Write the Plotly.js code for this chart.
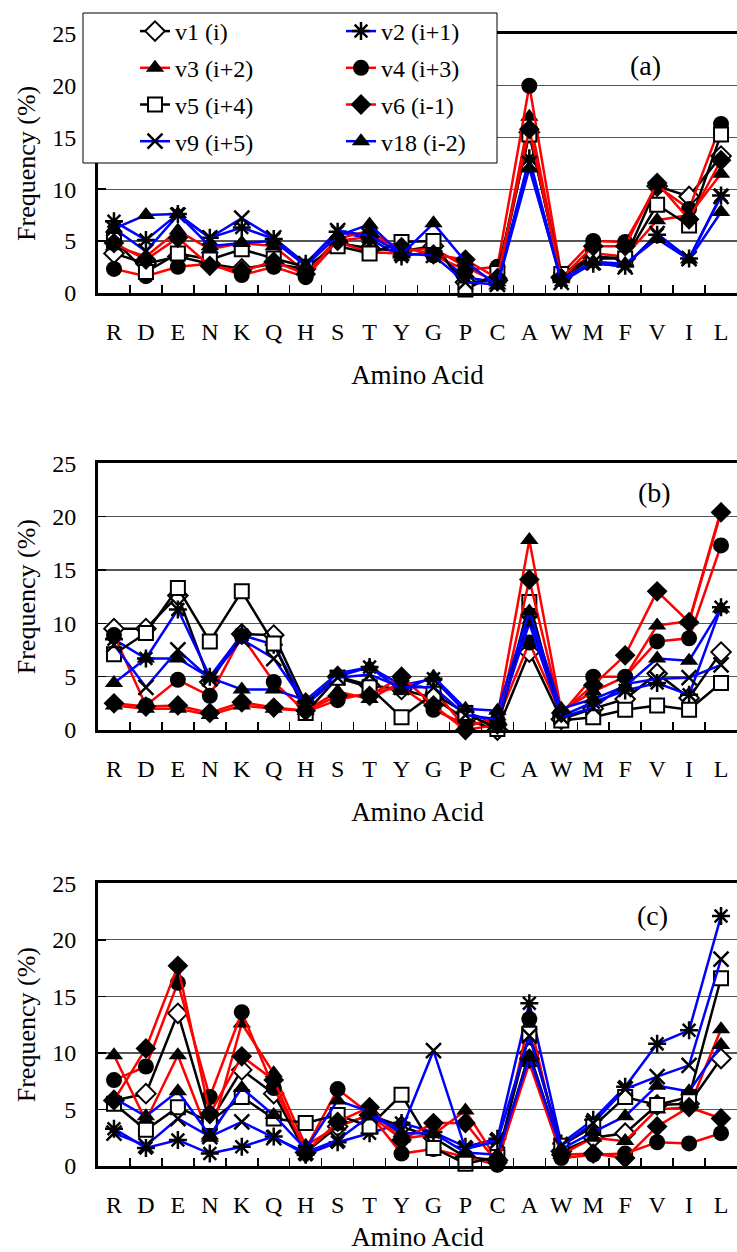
<!DOCTYPE html>
<html><head><meta charset="utf-8">
<script src="https://cdn.plot.ly/plotly-3.0.1.min.js"></script>
<style>body{margin:0;background:#fff}</style>
</head><body><div id="chart" style="width:737px;height:1252px"></div>
<script>
const categories = ['R','D','E','N','K','Q','H','S','T','Y','G','P','C','A','W','M','F','V','I','L'];
const seriesNames = ['v1 (i)','v2 (i+1)','v3 (i+2)','v4 (i+3)','v5 (i+4)','v6 (i-1)','v9 (i+5)','v18 (i-2)'];
const panelLabels = ['(a)','(b)','(c)'];
const yTicks = [0,5,10,15,20,25];

// Panel (a)
const a_v1  = [3.8, 2.8, 3.5, 2.8, 2.3, 2.8, 2.3, 4.8, 4.3, 4.0, 4.5, 1.0, 1.2, 15.5, 1.5, 3.3, 3.3, 10.3, 9.3, 13.2];
const a_v2  = [6.9, 5.1, 7.6, 5.3, 6.3, 5.2, 2.8, 5.9, 5.2, 3.5, 4.0, 1.5, 1.0, 13.0, 1.2, 2.8, 2.6, 5.6, 3.3, 9.4];
const a_v3  = [4.5, 3.5, 6.0, 4.2, 4.8, 4.5, 2.0, 5.2, 6.0, 4.0, 4.3, 2.5, 1.0, 17.0, 1.5, 3.8, 3.5, 7.0, 7.5, 11.5];
const a_v4  = [2.3, 1.6, 2.5, 2.8, 1.7, 2.5, 1.5, 4.9, 3.9, 3.8, 3.6, 2.2, 2.5, 20.0, 1.8, 5.0, 4.9, 10.3, 8.1, 16.3];
const a_v5  = [5.1, 2.0, 3.8, 3.2, 4.2, 3.3, 2.5, 4.5, 3.8, 4.9, 5.0, 0.3, 1.9, 15.3, 1.8, 3.5, 3.3, 8.5, 6.5, 15.3];
const a_v6  = [4.8, 3.2, 5.3, 2.6, 2.1, 3.0, 1.8, 5.0, 5.4, 4.4, 3.7, 3.2, 1.4, 15.8, 1.4, 4.5, 4.5, 10.6, 7.1, 12.8];
const a_v9  = [6.2, 4.0, 7.5, 5.3, 7.2, 5.3, 2.8, 6.0, 5.5, 3.8, 3.6, 1.0, 0.8, 12.5, 1.0, 2.9, 2.5, 5.7, 3.3, 9.3];
const a_v18 = [6.2, 7.5, 7.6, 4.5, 4.8, 5.0, 2.6, 5.5, 6.6, 3.7, 6.7, 3.0, 0.7, 12.0, 1.3, 3.0, 2.8, 5.2, 3.2, 7.8];

// Panel (b)
const b_v1  = [9.5, 9.5, 12.6, 4.5, 9.0, 8.9, 2.5, 5.0, 4.2, 3.8, 3.0, 1.0, 0.0, 7.3, 1.0, 2.0, 2.9, 5.3, 3.0, 7.3];
const b_v2  = [8.5, 6.7, 11.3, 5.0, 8.9, 8.0, 2.3, 5.0, 5.9, 4.2, 4.8, 1.7, 0.6, 10.6, 1.3, 2.6, 3.7, 4.4, 3.3, 11.5];
const b_v3  = [2.3, 2.0, 2.0, 1.4, 2.3, 2.0, 1.8, 3.6, 2.9, 4.5, 3.8, 0.2, 1.3, 17.8, 1.8, 3.6, 5.0, 9.8, 10.2, 20.6];
const b_v4  = [8.9, 2.3, 4.7, 3.2, 8.8, 4.5, 1.7, 2.8, 3.5, 4.0, 1.9, 0.5, 0.9, 8.2, 1.5, 5.0, 5.0, 8.3, 8.6, 17.3];
const b_v5  = [7.1, 9.1, 13.3, 8.3, 13.0, 8.1, 1.6, 4.9, 4.0, 1.2, 3.4, 1.6, 0.1, 12.0, 0.9, 1.2, 1.9, 2.3, 1.9, 4.4];
const b_v6  = [2.5, 2.2, 2.3, 1.6, 2.6, 2.1, 1.8, 3.2, 3.2, 5.0, 2.3, 0.0, 0.5, 14.1, 1.6, 4.2, 7.0, 13.0, 10.1, 20.4];
const b_v9  = [8.0, 4.0, 7.5, 4.8, 8.5, 6.7, 2.4, 4.9, 5.2, 4.0, 4.0, 1.4, 1.0, 10.0, 1.2, 2.1, 4.3, 4.8, 4.9, 6.1];
const b_v18 = [4.4, 6.7, 6.7, 4.9, 3.8, 3.8, 2.8, 5.3, 5.9, 3.7, 5.0, 2.0, 1.8, 11.1, 2.0, 2.9, 4.1, 6.7, 6.5, 11.4];

// Panel (c)
const c_v1  = [5.8, 6.4, 13.5, 3.9, 8.5, 6.4, 1.2, 3.5, 4.5, 3.5, 2.5, 0.8, 0.5, 10.0, 1.3, 2.5, 2.9, 5.4, 5.5, 9.5];
const c_v2  = [3.3, 1.6, 2.3, 1.1, 1.7, 2.6, 1.0, 2.1, 2.9, 3.8, 3.0, 1.7, 2.4, 14.4, 2.0, 4.1, 7.0, 10.8, 12.0, 22.1];
const c_v3  = [9.8, 4.0, 9.8, 2.5, 12.6, 8.2, 1.8, 3.5, 4.5, 2.4, 2.8, 4.9, 0.5, 9.1, 1.0, 2.5, 2.2, 5.0, 5.2, 12.1];
const c_v4  = [7.6, 8.8, 16.2, 6.1, 13.6, 6.9, 1.5, 6.8, 4.6, 1.1, 1.5, 0.8, 0.1, 13.0, 0.7, 1.0, 1.1, 2.1, 2.0, 2.9];
const c_v5  = [5.5, 3.2, 5.2, 3.9, 6.1, 4.2, 3.8, 4.5, 3.5, 6.3, 1.6, 0.2, 0.8, 11.7, 1.8, 3.5, 6.1, 5.4, 6.1, 16.6];
const c_v6  = [5.8, 10.4, 17.7, 4.6, 9.7, 7.6, 1.2, 3.9, 5.2, 2.3, 3.8, 3.8, 0.3, 9.5, 1.0, 1.1, 0.7, 3.5, 5.2, 4.2];
const c_v9  = [2.9, 1.8, 4.2, 2.6, 3.9, 2.5, 1.2, 2.3, 4.4, 3.2, 10.2, 1.5, 2.2, 11.5, 1.8, 3.8, 6.8, 7.9, 8.9, 18.3];
const c_v18 = [6.0, 4.4, 6.6, 2.7, 6.9, 4.5, 1.5, 5.8, 4.8, 2.9, 2.9, 1.2, 1.0, 9.6, 1.5, 3.0, 4.4, 7.1, 6.6, 10.7];

const panels = [
  [a_v1, a_v2, a_v3, a_v4, a_v5, a_v6, a_v9, a_v18],
  [b_v1, b_v2, b_v3, b_v4, b_v5, b_v6, b_v9, b_v18],
  [c_v1, c_v2, c_v3, c_v4, c_v5, c_v6, c_v9, c_v18]
];

const FONT = 'Liberation Serif';
const RED = '#ff0000', BLUE = '#0000ff', BLACK = '#000000';
const styles = [
  {line: BLACK, marker: {symbol:'diamond', size:15, color:'white', line:{color:BLACK, width:2}}},
  {line: BLUE,  marker: {symbol:'asterisk-open', size:15, color:BLACK, line:{color:BLACK, width:2.5}}},
  {line: RED,   marker: {symbol:'triangle-up', size:16, color:BLACK, line:{width:0}}},
  {line: RED,   marker: {symbol:'circle', size:16, color:BLACK, line:{width:0}}},
  {line: BLACK, marker: {symbol:'square', size:14, color:'white', line:{color:BLACK, width:2}}},
  {line: RED,   marker: {symbol:'diamond', size:16, color:BLACK, line:{width:0}}},
  {line: BLUE,  marker: {symbol:'x-thin-open', size:15, color:BLACK, line:{color:BLACK, width:2.5}}},
  {line: BLUE,  marker: {symbol:'triangle-up', size:16, color:BLACK, line:{width:0}}}
];
const legendOf = ['legend','legend2','legend','legend2','legend','legend2','legend','legend2'];

const traces = [];
panels.forEach((series, p) => {
  const sfx = p === 0 ? '' : String(p + 1);
  series.forEach((vals, i) => {
    traces.push({
      type: 'scatter', mode: 'lines+markers',
      x: categories, y: vals,
      xaxis: 'x' + sfx, yaxis: 'y' + sfx,
      name: seriesNames[i],
      legend: legendOf[i],
      legendgroup: 'g' + i,
      showlegend: p === 0,
      line: {color: styles[i].line, width: 2.5},
      marker: styles[i].marker,
      cliponaxis: false,
      hoverinfo: 'skip'
    });
  });
});

const H = 1252, W = 737, L = 98, PW = W - L;
function dom(top, bottom) { return [1 - bottom / H, 1 - top / H]; }
const panelBox = [[34.0, 292.7], [463.3, 730], [883.3, 1166]];

function xax(anchor) {
  return {
    anchor: anchor, domain: [0, 1], type: 'category',
    categoryorder: 'array', categoryarray: categories, range: [-0.5, 19.5],
    showline: true, linewidth: 3, linecolor: BLACK, mirror: true,
    ticks: 'inside', ticklen: 8, tickwidth: 1.5, tickcolor: BLACK, tickson: 'boundaries',
    tickangle: 0,
    showgrid: false, zeroline: false, fixedrange: true, automargin: false,
    tickfont: {family: FONT, size: 24, color: BLACK}, ticklabelstandoff: 15,
    title: {text: 'Amino Acid', font: {family: FONT, size: 27, color: BLACK}, standoff: 22}
  };
}
function yax(anchor, d) {
  return {
    anchor: anchor, domain: d, range: [0, 25], tickvals: yTicks,
    showline: true, linewidth: 3, linecolor: BLACK, mirror: true,
    ticks: 'inside', ticklen: 8, tickwidth: 1.5, tickcolor: BLACK,
    showgrid: true, gridcolor: '#555555', gridwidth: 1.3, zeroline: false,
    fixedrange: true, automargin: false,
    tickfont: {family: FONT, size: 24, color: BLACK}, ticklabelstandoff: 14,
    title: {text: 'Frequency (%)', font: {family: FONT, size: 26, color: BLACK}, standoff: 10}
  };
}

const labelPos = [[645, 66], [654, 492], [652, 915]];
const layout = {
  width: W, height: H,
  margin: {l: L, r: 0, t: 0, b: 0},
  paper_bgcolor: 'white', plot_bgcolor: 'white',
  font: {family: FONT, size: 24, color: BLACK},
  xaxis: xax('y'), xaxis2: xax('y2'), xaxis3: xax('y3'),
  yaxis: yax('x', dom(...panelBox[0])),
  yaxis2: yax('x2', dom(...panelBox[1])),
  yaxis3: yax('x3', dom(...panelBox[2])),
  legend: {x: (135 - L) / PW, y: 1 - 9 / H, xanchor: 'left', yanchor: 'top',
           bgcolor: 'rgba(0,0,0,0)', borderwidth: 0, tracegroupgap: 2.5,
           font: {family: FONT, size: 24, color: BLACK}},
  legend2: {x: (341 - L) / PW, y: 1 - 9 / H, xanchor: 'left', yanchor: 'top',
           bgcolor: 'rgba(0,0,0,0)', borderwidth: 0, tracegroupgap: 2.5,
           font: {family: FONT, size: 24, color: BLACK}},
  shapes: [{type: 'rect', xref: 'paper', yref: 'paper', layer: 'above',
            x0: (83 - L) / PW, x1: (497 - L) / PW, y0: 1 - 163 / H, y1: 1 - 13 / H,
            fillcolor: 'white', line: {color: BLACK, width: 1}}],
  annotations: panelLabels.map((t, i) => ({
    text: t, xref: 'paper', yref: 'paper', showarrow: false,
    x: (labelPos[i][0] - L) / PW, y: 1 - labelPos[i][1] / H,
    xanchor: 'center', yanchor: 'middle',
    font: {family: FONT, size: 28, color: BLACK}
  }))
};

Plotly.newPlot('chart', traces, layout, {staticPlot: true, displayModeBar: false});
</script>
</body></html>
